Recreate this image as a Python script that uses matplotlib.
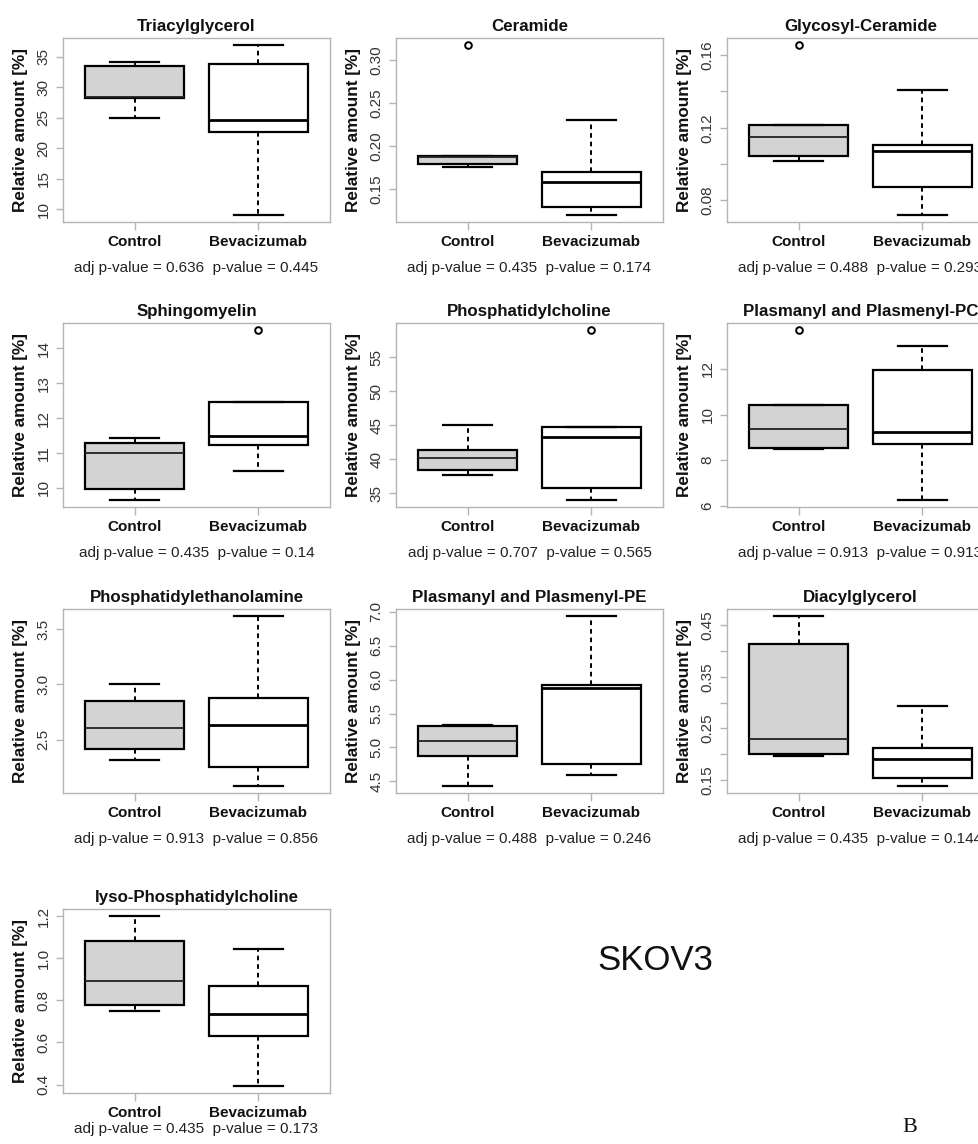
import matplotlib
matplotlib.use("Agg")
import matplotlib.pyplot as plt

plt.rcParams['font.family'] = ['Liberation Sans', 'DejaVu Sans']

groups = ['Control', 'Bevacizumab']
lipids = ['Triacylglycerol', 'Ceramide', 'Glycosyl-Ceramide',
          'Sphingomyelin', 'Phosphatidylcholine', 'Plasmanyl and Plasmenyl-PC',
          'Phosphatidylethanolamine', 'Plasmanyl and Plasmenyl-PE', 'Diacylglycerol',
          'lyso-Phosphatidylcholine']

# (whisker low, Q1, median, Q3, whisker high)
control_stats = [
    (24.9, 28.2, 28.5, 33.6, 34.1),
    (0.176, 0.180, 0.188, 0.189, 0.189),
    (0.102, 0.1045, 0.1152, 0.1215, 0.1215),
    (9.645, 9.98, 10.99, 11.29, 11.42),
    (37.66, 38.49, 40.24, 41.3, 45.1),
    (8.50, 8.55, 9.35, 10.43, 10.43),
    (2.32, 2.415, 2.606, 2.848, 3.006),
    (4.43, 4.88, 5.10, 5.31, 5.325),
    (0.197, 0.200, 0.230, 0.4125, 0.468),
    (0.748, 0.779, 0.892, 1.081, 1.203),
]
bev_stats = [
    (9.0, 22.6, 24.6, 33.8, 37.0),
    (0.120, 0.129, 0.159, 0.170, 0.231),
    (0.0719, 0.0876, 0.1075, 0.1107, 0.1408),
    (10.48, 11.22, 11.49, 12.45, 12.45),
    (34.0, 35.85, 43.2, 44.8, 44.8),
    (6.25, 8.69, 9.22, 11.93, 12.98),
    (2.08, 2.255, 2.636, 2.879, 3.62),
    (4.60, 4.76, 5.87, 5.92, 6.94),
    (0.138, 0.153, 0.1905, 0.212, 0.2935),
    (0.392, 0.630, 0.735, 0.867, 1.043),
]
control_outliers = [[], [0.318], [0.1657], [], [], [13.71], [], [], [], []]
bev_outliers = [[], [], [], [14.53], [59.0], [], [], [], [], []]

adj_p = ['0.636', '0.435', '0.488', '0.435', '0.707', '0.913', '0.913', '0.488', '0.435', '0.435']
p_vals = ['0.445', '0.174', '0.293', '0.14', '0.565', '0.913', '0.856', '0.246', '0.144', '0.173']

y_ticks = [
    [10, 15, 20, 25, 30, 35],
    [0.15, 0.20, 0.25, 0.30],
    [0.08, 0.10, 0.12, 0.14, 0.16],
    [10, 11, 12, 13, 14],
    [35, 40, 45, 50, 55],
    [6, 8, 10, 12],
    [2.5, 3.0, 3.5],
    [4.5, 5.0, 5.5, 6.0, 6.5, 7.0],
    [0.15, 0.20, 0.25, 0.30, 0.35, 0.40, 0.45],
    [0.4, 0.6, 0.8, 1.0, 1.2],
]
y_tick_labels = [
    ['10', '15', '20', '25', '30', '35'],
    ['0.15', '0.20', '0.25', '0.30'],
    ['0.08', '', '0.12', '', '0.16'],
    ['10', '11', '12', '13', '14'],
    ['35', '40', '45', '50', '55'],
    ['6', '8', '10', '12'],
    ['2.5', '3.0', '3.5'],
    ['4.5', '5.0', '5.5', '6.0', '6.5', '7.0'],
    ['0.15', '', '0.25', '', '0.35', '', '0.45'],
    ['0.4', '0.6', '0.8', '1.0', '1.2'],
]

W, H = 979, 1144
fig = plt.figure(figsize=(W / 100, H / 100), dpi=100)

col_left = [63, 396, 727]
row_top = [38, 323, 609, 909]
pval_offset = [-46, -46, -46, -36]
ax_w, ax_h = 267, 184
frame_col = '#b4b4b4'
box_lw = 1.6

for i, name in enumerate(lipids):
    r, c = divmod(i, 3)
    x0, y0 = col_left[c], row_top[r]
    ax = fig.add_axes([x0 / W, 1 - (y0 + ax_h) / H, ax_w / W, ax_h / H])

    stats = []
    for s, fl, lab in ((control_stats[i], control_outliers[i], groups[0]),
                       (bev_stats[i], bev_outliers[i], groups[1])):
        lo, q1, med, q3, hi = s
        stats.append(dict(whislo=lo, q1=q1, med=med, q3=q3, whishi=hi,
                          fliers=fl, label=lab))

    art = ax.bxp(stats, positions=[1, 2], widths=0.8, patch_artist=True,
                 showfliers=True, capwidths=0.4,
                 boxprops=dict(linewidth=box_lw, edgecolor='black'),
                 medianprops=dict(color='black', linewidth=2.0),
                 whiskerprops=dict(color='black', linewidth=1.4, linestyle=(0, (2.4, 2.0))),
                 capprops=dict(color='black', linewidth=box_lw),
                 flierprops=dict(marker='o', markerfacecolor='none', markeredgecolor='black',
                                 markersize=4.8, markeredgewidth=1.4))
    art['boxes'][0].set_facecolor('#d3d3d3')
    art['boxes'][1].set_facecolor('white')
    art['medians'][0].set_linewidth(1.3)
    art['medians'][0].set_color('#222222')

    # R style 4% padding around all values
    vals = list(control_stats[i]) + list(bev_stats[i]) + control_outliers[i] + bev_outliers[i]
    lo, hi = min(vals), max(vals)
    pad = 0.04 * (hi - lo)
    ax.set_ylim(lo - pad, hi + pad)
    ax.set_xlim(0.42, 2.58)

    ax.set_yticks(y_ticks[i])
    ax.set_yticklabels(y_tick_labels[i], rotation=90, va='center', fontsize=11, color='#333333')
    ax.set_xticks([1, 2])
    ax.set_xticklabels(groups, fontsize=11, fontweight='bold', color='#111111')
    ax.tick_params(axis='both', color=frame_col, width=1)
    ax.tick_params(axis='y', length=5, pad=4)
    ax.tick_params(axis='x', length=5.5, pad=4)
    for sp in ax.spines.values():
        sp.set_color(frame_col)
        sp.set_linewidth(1)

    ax.set_title(name, fontsize=12.2, fontweight='bold', pad=5, color='#111111')
    ax.set_ylabel('Relative amount [%]', fontsize=12.3, fontweight='bold', color='#111111')
    ax.yaxis.set_label_coords(-0.132, 0.5)

    ax.annotate('adj p-value = %s  p-value = %s' % (adj_p[i], p_vals[i]),
                xy=(0.5, 0), xycoords='axes fraction',
                xytext=(0, pval_offset[r]), textcoords='offset pixels',
                ha='center', va='center', fontsize=11, color='#222222')

fig.text(655 / W, 1 - 960 / H, 'SKOV3', fontsize=25, ha='center', va='center', color='#111111')
fig.text(910 / W, 1 - 1128 / H, 'B', fontsize=16, ha='center', va='center',
         family=['Liberation Serif', 'DejaVu Serif'], color='#111111')

fig.savefig('out.png', dpi=100)
